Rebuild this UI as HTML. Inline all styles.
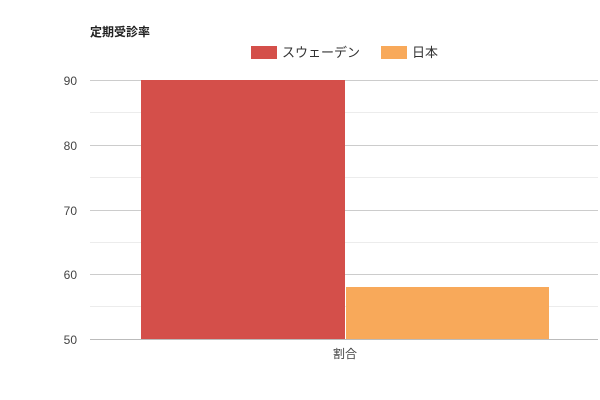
<!DOCTYPE html>
<html><head><meta charset="utf-8"><style>
body{margin:0;background:#fff;}
svg{display:block;font-family:"Liberation Sans","Noto Sans CJK JP",sans-serif;}
</style></head><body>
<svg width="600" height="400" viewBox="0 0 600 400">
<text x="90" y="36" font-size="12" font-weight="bold" fill="#222">定期受診率</text>
<rect x="251" y="46" width="26" height="13" fill="#d44f4a"/>
<text x="282" y="57" font-size="13" fill="#333">スウェーデン</text>
<rect x="381" y="46" width="26" height="13" fill="#f8a95a"/>
<text x="412" y="57" font-size="13" fill="#333">日本</text>
<g stroke="#ececec" stroke-width="1">
<line x1="90" x2="598" y1="112.5" y2="112.5"/>
<line x1="90" x2="598" y1="177.5" y2="177.5"/>
<line x1="90" x2="598" y1="242.5" y2="242.5"/>
<line x1="90" x2="598" y1="306.5" y2="306.5"/>
</g>
<g stroke="#ccc" stroke-width="1">
<line x1="90" x2="598" y1="80.5" y2="80.5"/>
<line x1="90" x2="598" y1="145.5" y2="145.5"/>
<line x1="90" x2="598" y1="210.5" y2="210.5"/>
<line x1="90" x2="598" y1="274.5" y2="274.5"/>
</g>
<rect x="141" y="80" width="204" height="259" fill="#d44f4a"/>
<rect x="346" y="287" width="203" height="52" fill="#f8a95a"/>
<line x1="90" x2="598" y1="339.5" y2="339.5" stroke="#bbb"/>
<g font-size="12" fill="#444" text-anchor="end">
<text x="77" y="85">90</text>
<text x="77" y="150">80</text>
<text x="77" y="215">70</text>
<text x="77" y="279">60</text>
<text x="77" y="344">50</text>
</g>
<text x="345" y="358" font-size="12" fill="#444" text-anchor="middle">割合</text>
</svg>
</body></html>
